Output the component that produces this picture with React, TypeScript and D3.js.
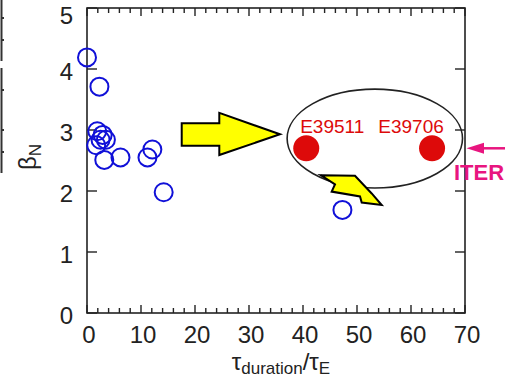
import React from "react";
import * as d3 from "d3";

// Discharges: normalized beta vs. duration in energy-confinement times
const blueX = [0.0, 2.3, 1.9, 2.9, 3.5, 1.7, 2.5, 3.2, 6.2, 11.2, 12.1, 14.2, 47.3];
const blueY = [4.19, 3.71, 2.98, 2.92, 2.84, 2.75, 2.84, 2.51, 2.55, 2.55, 2.68, 1.98, 1.69];
const redX = [40.6, 63.9];
const redY = [2.7, 2.7];
const redLabels = ["E39511", "E39706"];
const xTicks = [0, 10, 20, 30, 40, 50, 60, 70];
const yTicks = [0, 1, 2, 3, 4, 5];

const W = 515;
const H = 380;
const FONT = "'Liberation Sans', Arial, Helvetica, sans-serif";
const INK = "#222";
// horizontal nudges of the shot labels relative to their dots
const labelShift = [26, -21];

export default function App() {
  const x = d3.scaleLinear().domain([0, 70]).range([87, 465]);
  const y = d3.scaleLinear().domain([0, 5]).range([313, 8]);
  const minor = d3.range(0, 71, 2);

  const poly = (pts: [number, number][]) =>
    d3.line()(pts.map(([a, b]) => [x(a), y(b)] as [number, number])) + "Z";

  // big yellow arrow pointing to the highlighted pair
  const bigArrow = poly([
    [17.54, 3.11], [24.5, 3.11], [24.5, 3.28], [35.74, 2.93],
    [24.5, 2.59], [24.5, 2.74], [17.54, 2.74],
  ]);
  // jagged arrow under the ellipse
  const boltArrow = poly([
    [43.28, 2.26], [49.63, 2.25], [52.72, 1.96], [54.57, 1.77],
    [50.87, 1.81], [50.56, 1.91], [45.31, 1.99], [45.93, 2.11],
  ]);

  const iterY = y(2.7);

  return (
    <svg width={W} height={H} style={{ position: "absolute", left: 0, top: 0, background: "#fff" }}
      fontFamily={FONT}>
      {/* edge of neighbouring panel */}
      <g stroke="#333" strokeWidth={2}>
        <line x1={1.5} y1={0} x2={1.5} y2={61} />
        <line x1={1.5} y1={68} x2={1.5} y2={173} />
        {[18, 40, 90, 130, 152].map((t) => (
          <line key={t} x1={1.5} x2={4} y1={t} y2={t} />
        ))}
      </g>

      {/* frame */}
      <rect x={x(0)} y={y(5)} width={x(70) - x(0)} height={y(0) - y(5)}
        fill="none" stroke={INK} strokeWidth={1.6} />
      <g stroke={INK} strokeWidth={1.4}>
        {minor.map((v) => {
          const len = v % 10 === 0 ? 8 : 5;
          return (
            <g key={v}>
              <line x1={x(v)} x2={x(v)} y1={y(0)} y2={y(0) - len} />
              <line x1={x(v)} x2={x(v)} y1={y(5)} y2={y(5) + len} />
            </g>
          );
        })}
        {yTicks.map((v) => (
          <g key={v}>
            <line x1={x(0)} x2={x(0) + 10} y1={y(v)} y2={y(v)} />
            <line x1={x(70)} x2={x(70) - 10} y1={y(v)} y2={y(v)} />
          </g>
        ))}
      </g>

      {/* tick labels */}
      <g fill={INK} fontSize={24}>
        {xTicks.map((v) => (
          <text key={v} x={x(v) + 2} y={343} textAnchor="middle">{v}</text>
        ))}
        {yTicks.map((v) => (
          <text key={v} x={73} y={Math.max(y(v) + 11, 24)} textAnchor="end">{v}</text>
        ))}
      </g>

      {/* axis titles */}
      <text x={281} y={370} textAnchor="middle" fill={INK} fontSize={24}>
        τ<tspan fontSize={17} dy={4}>duration</tspan>
        <tspan dy={-4}>/τ</tspan>
        <tspan fontSize={17} dy={4}>E</tspan>
      </text>
      <text transform={`translate(36,157) rotate(-90)`} textAnchor="middle" fill={INK} fontSize={24}>
        β<tspan fontSize={17} dy={5}>N</tspan>
      </text>

      {/* highlighted region */}
      <ellipse cx={x(53.3)} cy={y(2.86)} rx={x(16.24) - x(0)} ry={y(0) - y(0.81)}
        fill="none" stroke={INK} strokeWidth={1.6} />

      {/* data */}
      <g fill="none" stroke="#1010d8" strokeWidth={2}>
        {blueX.map((v, i) => (
          <circle key={i} cx={x(v)} cy={y(blueY[i])} r={9} />
        ))}
      </g>
      {redX.map((v, i) => (
        <g key={i}>
          <circle cx={x(v)} cy={y(redY[i])} r={13} fill="#dd0a0a" />
          <text x={x(v) + labelShift[i]} y={y(redY[i]) - 15} textAnchor="middle" fill="#dd0a0a" fontSize={19}>
            {redLabels[i]}
          </text>
        </g>
      ))}

      {/* arrows */}
      <path d={bigArrow} fill="#ffff00" stroke="#000" strokeWidth={2} strokeLinejoin="miter" />
      <path d={boltArrow} fill="#ffff00" stroke="#000" strokeWidth={2} strokeLinejoin="miter" />

      {/* ITER marker */}
      <g fill="#e8157f" stroke="#e8157f">
        <line x1={505} x2={478} y1={iterY} y2={iterY} strokeWidth={2.5} />
        <path d={`M${x(70) + 1.5},${iterY} L${x(70) + 19},${iterY - 5.5} L${x(70) + 19},${iterY + 5.5} Z`} stroke="none" />
      </g>
      <text x={479} y={180} textAnchor="middle" fill="#e8157f" fontSize={22} fontWeight="bold">ITER</text>
    </svg>
  );
}
